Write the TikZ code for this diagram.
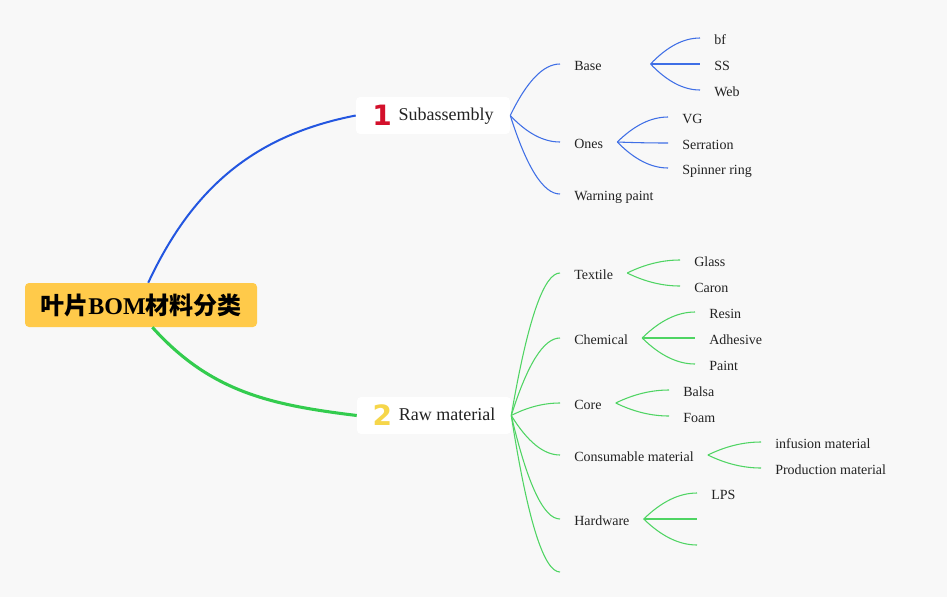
\documentclass[tikz,border=0pt]{standalone}
\usepackage{fontspec}
\setmainfont{Liberation Serif}
\newfontfamily\cjkfont{Noto Sans CJK SC}
\newfontfamily\markfont{DejaVu Sans}[BoldFont={DejaVu Sans Bold}]
\usepackage{xcolor}
\usepackage{tikz}
\usetikzlibrary{calc}

\definecolor{bgcol}{HTML}{F8F8F8}
\definecolor{rootcol}{HTML}{FFCA4A}
\definecolor{bluemain}{HTML}{2356E0}
\definecolor{bluetwig}{HTML}{3F6FE6}
\definecolor{greenmain}{HTML}{33CC4E}
\definecolor{greentwig}{HTML}{4FD463}
\definecolor{markred}{HTML}{D3102B}
\definecolor{markyellow}{HTML}{F6D64A}
\definecolor{inkcol}{HTML}{222222}

\tikzset{
  twig/.style={to path={let \p1=(\tikztostart), \p2=(\tikztotarget) in
    .. controls ({\x1+(\x2-\x1)/3},{\y1+2*(\y2-\y1)/3}) and ({\x2-(\x2-\x1)/3},\y2) .. (\tikztotarget)}},
  leaf/.style={anchor=west, inner xsep=10.5pt, inner ysep=2pt, text=inkcol,
    text height=10pt, text depth=0pt, font=\fontsize{10.5}{12}\selectfont},
  topic/.style={fill=white, rounded corners=3pt, minimum width=115.5pt, minimum height=27.75pt,
    inner sep=0pt, text=inkcol, font=\fontsize{13.5}{16}\selectfont},
  blueline/.style={bluetwig, line width=0.8pt},
  greenline/.style={greentwig, line width=0.8pt},
}

\begin{document}
\begin{tikzpicture}[x=0.75pt, y=0.75pt]
  \fill[bgcol] (0,0) rectangle (947,-597);
  \useasboundingbox (0,0) rectangle (947,-597);

  % central topic
  \node[fill=rootcol, rounded corners=3pt, minimum width=174pt, minimum height=33pt, inner sep=0pt,
        font=\fontsize{18}{20}\selectfont\bfseries] (root) at (141,-305)
        {{\cjkfont 叶片}BOM{\cjkfont 材料分类}};

  % main topics
  \node[topic] (sub) at (433,-115.5)
        {\raisebox{-3.7pt}{\markfont\bfseries\fontsize{21}{21}\selectfont\color{markred}1}\hspace{5pt}Subassembly};
  \node[topic] (raw) at (434,-415.5)
        {\raisebox{-3.7pt}{\markfont\bfseries\fontsize{21}{21}\selectfont\color{markyellow}2}\hspace{5pt}Raw material};

  \draw[bluemain, line width=1.5pt] (root.72) to[out=65, in=191] (sub.west);
  \draw[greenmain, line width=2.3pt] (root.-63) to[out=-48, in=173] (raw.west);

  % Subassembly branch
  \node[leaf, text width=46.5pt, align=left] (base) at (560,-64) {Base};
  \node[leaf] (ones) at (560,-142) {Ones};
  \node[leaf] (warn) at (560,-194) {Warning paint};
  \node[leaf] (bf) at (700,-38) {bf};
  \node[leaf] (ss) at (700,-64) {SS};
  \node[leaf] (web) at (700,-90) {Web};
  \node[leaf] (vg) at (668,-117) {VG};
  \node[leaf] (serr) at (668,-143) {Serration};
  \node[leaf] (spin) at (668,-168) {Spinner ring};

  \foreach \k in {base,ones,warn} \draw[blueline] (sub.east) to[twig] (\k.west);
  \foreach \k in {bf,ss,web} \draw[blueline] (base.east) to[twig] (\k.west);
  \foreach \k in {vg,serr,spin} \draw[blueline] (ones.east) to[twig] (\k.west);

  % Raw material branch
  \node[leaf] (tex) at (560,-273) {Textile};
  \node[leaf] (chem) at (560,-338) {Chemical};
  \node[leaf] (core) at (560,-403) {Core};
  \node[leaf] (cons) at (560,-455) {Consumable material};
  \node[leaf] (hard) at (560,-519) {Hardware};
  \coordinate (rawend) at (560,-572);
  \node[leaf] (glass) at (680,-260) {Glass};
  \node[leaf] (caron) at (680,-286) {Caron};
  \node[leaf] (resin) at (695,-312) {Resin};
  \node[leaf] (adh) at (695,-338) {Adhesive};
  \node[leaf] (paint) at (695,-364) {Paint};
  \node[leaf] (balsa) at (669,-390) {Balsa};
  \node[leaf] (foam) at (669,-416) {Foam};
  \node[leaf] (inf) at (761,-442) {infusion material};
  \node[leaf] (prod) at (761,-468) {Production material};
  \node[leaf] (lps) at (697,-493) {LPS};
  \coordinate (hardb) at (697,-519);
  \coordinate (hardc) at (697,-545);

  \foreach \k in {tex,chem,core,cons,hard} \draw[greenline] (raw.east) to[twig] (\k.west);
  \draw[greenline] (raw.east) to[twig] (rawend);
  \foreach \k in {glass,caron} \draw[greenline] (tex.east) to[twig] (\k.west);
  \foreach \k in {resin,adh,paint} \draw[greenline] (chem.east) to[twig] (\k.west);
  \foreach \k in {balsa,foam} \draw[greenline] (core.east) to[twig] (\k.west);
  \foreach \k in {inf,prod} \draw[greenline] (cons.east) to[twig] (\k.west);
  \draw[greenline] (hard.east) to[twig] (lps.west);
  \draw[greenline] (hard.east) to[twig] (hardb);
  \draw[greenline] (hard.east) to[twig] (hardc);
\end{tikzpicture}
\end{document}
